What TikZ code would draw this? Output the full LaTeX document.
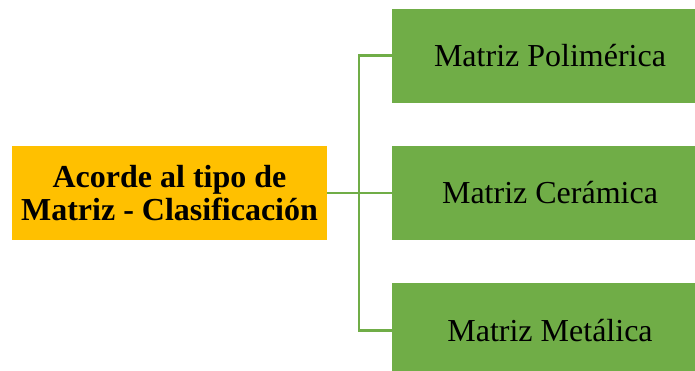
\documentclass[tikz,border=0pt]{standalone}
\usepackage{fontspec}
\setmainfont{Liberation Serif}
\usetikzlibrary{positioning}
\definecolor{oro}{HTML}{FFC000}
\definecolor{verde}{HTML}{70AD47}
\tikzset{
  clas/.style={rectangle, minimum width=315pt, minimum height=94pt, text centered, align=center, fill=oro, inner sep=0pt, font=\fontsize{32}{33}\selectfont\bfseries},
  tipo/.style={rectangle, minimum width=316pt, minimum height=94pt, text centered, fill=verde, inner sep=0pt, font=\fontsize{32}{33}\selectfont},
  linea/.style={draw=verde, line width=2.6pt},
  node distance=43pt
}
\begin{document}
\begin{tikzpicture}[x=1pt,y=-1pt]
	\useasboundingbox (0,0) rectangle (695,370);
	\clip (0,0) rectangle (695,370);
	\node[clas] (raiz) at (169.5,193) {Acorde al tipo de\\Matriz - Clasificación};
	\node[tipo] (cera) at (550,193) {Matriz Cerámica};
	\node[tipo, above=of cera] (poli) {Matriz Polimérica};
	\node[tipo, below=of cera] (meta) {Matriz Metálica};
	\coordinate (junta) at (359,193);
	%
	\draw[linea] (raiz.east) -- (junta);
	\draw[linea] (junta) |- (poli.west);
	\draw[linea] (junta) -- (cera.west);
	\draw[linea] (junta) |- (meta.west);
\end{tikzpicture}
\end{document}
